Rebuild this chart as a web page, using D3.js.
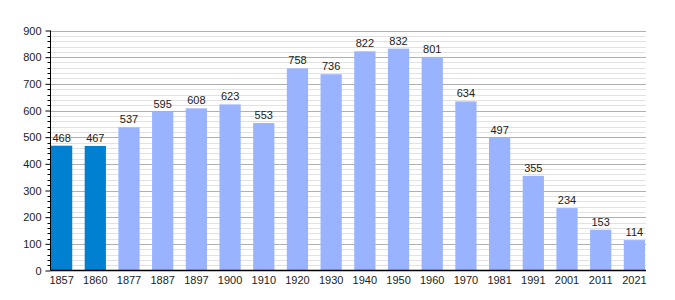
<!DOCTYPE html>
<html><head><meta charset="utf-8">
<script src="https://cdn.jsdelivr.net/npm/d3@7"></script>
<style>body{margin:0;background:#fff}svg{display:block}text{font-family:"Liberation Sans",Arial,sans-serif;}</style>
</head><body>
<svg id="c" width="675" height="300"></svg>
<script>
const years = ["1857","1860","1877","1887","1897","1900","1910","1920","1930","1940","1950","1960","1970","1981","1991","2001","2011","2021"];
const population = [468,467,537,595,608,623,553,758,736,822,832,801,634,497,355,234,153,114];
const highlighted = ["1857","1860"];
const yTicks = [0,100,200,300,400,500,600,700,800,900];

(function(){
const svg = d3.select("#c");
const pLeft = 50.5, pRight = 646, pTop = 30.5, pBottom = 270.5;
const x = d3.scaleBand().domain(years).range([51, 645]).paddingInner(0.37).paddingOuter(0);
const y = d3.scaleLinear().domain([0, 900]).range([pBottom, pTop]);

const minor = d3.range(0, 901, 20).filter(v => v % 100 !== 0);
svg.append("g").selectAll("line").data(minor).join("line")
  .attr("x1", pLeft).attr("x2", pRight)
  .attr("y1", d => Math.round(y(d)) + 0.5).attr("y2", d => Math.round(y(d)) + 0.5)
  .attr("stroke", "#e2e2e2").attr("stroke-width", 1);
svg.append("g").selectAll("line").data(yTicks.filter(v => v > 0)).join("line")
  .attr("x1", pLeft).attr("x2", pRight)
  .attr("y1", d => Math.round(y(d)) + 0.5).attr("y2", d => Math.round(y(d)) + 0.5)
  .attr("stroke", "#b0b0b0").attr("stroke-width", 1);

svg.append("g").selectAll("rect").data(years).join("rect")
  .attr("x", d => x(d)).attr("width", x.bandwidth())
  .attr("y", (d, i) => y(population[i])).attr("height", (d, i) => pBottom - y(population[i]))
  .attr("fill", d => highlighted.includes(d) ? "#0080d0" : "#99b3ff");

svg.append("g").selectAll("text").data(years).join("text")
  .attr("x", d => x(d) + x.bandwidth() / 2)
  .attr("y", (d, i) => y(population[i]) - 4)
  .attr("text-anchor", "middle").attr("font-size", 11).attr("fill", "#222")
  .text((d, i) => population[i]);

const yAxis = d3.axisLeft(y).tickValues(yTicks).tickSize(5).tickPadding(4);
const gy = svg.append("g").attr("transform", `translate(${pLeft},0)`).call(yAxis);
gy.select(".domain").attr("stroke", "#000").attr("d", `M0,${pTop}V${pBottom}`);
gy.selectAll(".tick text").attr("font-size", 11).attr("fill", "#222").attr("font-family", '"Liberation Sans",Arial,sans-serif');
gy.selectAll(".tick line").attr("stroke", "#000");
svg.append("g").selectAll("line").data(minor).join("line")
  .attr("x1", pLeft - 3).attr("x2", pLeft)
  .attr("y1", d => Math.round(y(d)) + 0.5).attr("y2", d => Math.round(y(d)) + 0.5)
  .attr("stroke", "#000");

const xAxis = d3.axisBottom(x).tickSize(0).tickPadding(6);
const gx = svg.append("g").attr("transform", `translate(0,${pBottom})`).call(xAxis);
gx.select(".domain").attr("stroke", "#000").attr("stroke-width", 1.5).attr("d", `M${pLeft},0H${pRight}`);
gx.selectAll(".tick text").attr("font-size", 11).attr("fill", "#222").attr("font-family", '"Liberation Sans",Arial,sans-serif');
})();
</script>
</body></html>
